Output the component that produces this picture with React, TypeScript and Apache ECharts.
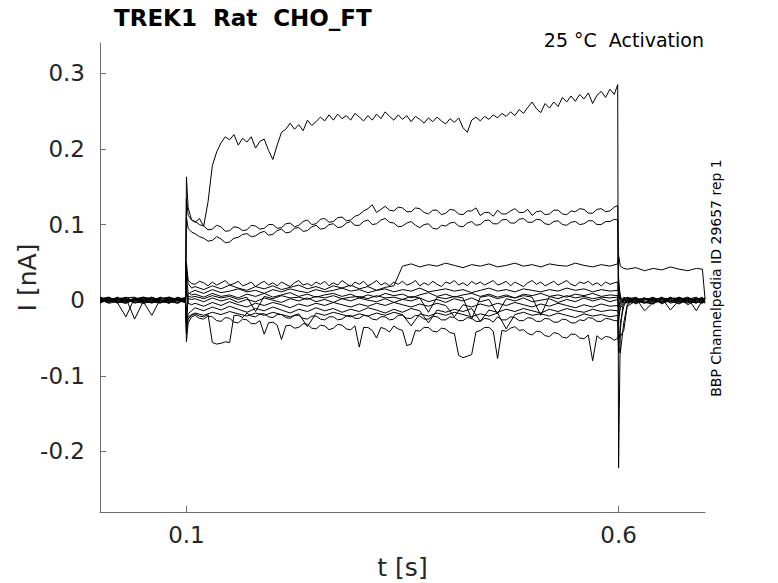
import React, { useEffect, useRef } from "react";
import * as echarts from "echarts";

// time grids (s)
const T_PRE = [0, 0.01, 0.02, 0.03, 0.04, 0.05, 0.06, 0.07, 0.08, 0.09, 0.099, 0.1, 0.102, 0.106];
const T_STEP_COARSE = [
  0.11, 0.12, 0.13, 0.14, 0.15, 0.16, 0.17, 0.18, 0.19, 0.2,
  0.21, 0.22, 0.23, 0.24, 0.25, 0.26, 0.27, 0.28, 0.29, 0.3,
  0.31, 0.32, 0.33, 0.34, 0.35, 0.36, 0.37, 0.38, 0.39, 0.4,
  0.41, 0.42, 0.43, 0.44, 0.45, 0.46, 0.47, 0.48, 0.49, 0.5,
  0.51, 0.52, 0.53, 0.54, 0.55, 0.56, 0.57, 0.58, 0.59,
];
const T_STEP_FINE = [
  0.11, 0.115, 0.12, 0.125, 0.13, 0.135, 0.14, 0.145, 0.15, 0.155,
  0.16, 0.165, 0.17, 0.175, 0.18, 0.185, 0.19, 0.195, 0.2, 0.205,
  0.21, 0.215, 0.22, 0.225, 0.23, 0.235, 0.24, 0.245, 0.25, 0.255,
  0.26, 0.265, 0.27, 0.275, 0.28, 0.285, 0.29, 0.295, 0.3, 0.305,
  0.31, 0.315, 0.32, 0.325, 0.33, 0.335, 0.34, 0.345, 0.35, 0.355,
  0.36, 0.365, 0.37, 0.375, 0.38, 0.385, 0.39, 0.395, 0.4, 0.405,
  0.41, 0.415, 0.42, 0.425, 0.43, 0.435, 0.44, 0.445, 0.45, 0.455,
  0.46, 0.465, 0.47, 0.475, 0.48, 0.485, 0.49, 0.495, 0.5, 0.505,
  0.51, 0.515, 0.52, 0.525, 0.53, 0.535, 0.54, 0.545, 0.55, 0.555,
  0.56, 0.565, 0.57, 0.575, 0.58, 0.585, 0.59, 0.595,
];
const T_POST = [0.599, 0.6, 0.602, 0.606, 0.61, 0.62, 0.63, 0.64, 0.65, 0.66, 0.67, 0.68, 0.69, 0.697, 0.7];

// current traces (nA) — fine resolution during the step
const traceA = [
  0.002, 0.004, -0.001, -0.004, 0.001, 0.003, 0.0, -0.003, -0.002, 0.003, 0.001,
  0.163, 0.122, 0.106,
  0.103, 0.108, 0.098, 0.13, 0.178, 0.196, 0.208, 0.216, 0.212, 0.219,
  0.205, 0.214, 0.209, 0.216, 0.201, 0.21, 0.213, 0.198, 0.186, 0.205,
  0.222, 0.226, 0.234, 0.226, 0.232, 0.224, 0.238, 0.231, 0.236, 0.242,
  0.237, 0.245, 0.238, 0.246, 0.24, 0.244, 0.238, 0.247, 0.242, 0.237,
  0.244, 0.238, 0.246, 0.24, 0.249, 0.243, 0.238, 0.245, 0.239, 0.244,
  0.236, 0.243, 0.239, 0.234, 0.241, 0.236, 0.242, 0.237, 0.233, 0.24,
  0.235, 0.241, 0.228, 0.222, 0.238, 0.242, 0.237, 0.243, 0.239, 0.245,
  0.241, 0.247, 0.243, 0.249, 0.244, 0.252, 0.247, 0.255, 0.262, 0.253,
  0.248, 0.26, 0.254, 0.262, 0.256, 0.268, 0.262, 0.27, 0.263, 0.272,
  0.266, 0.274, 0.26, 0.271, 0.276, 0.268, 0.279, 0.272,
  0.285, -0.222, -0.04, 0.004,
  0.002, -0.001, -0.004, 0.003, 0.001, -0.002, 0.004, 0.0, -0.003, 0.002, -0.001,
];
const traceB = [
  -0.003, 0.001, 0.003, 0.002, -0.004, -0.001, 0.004, 0.0, -0.003, 0.001, -0.002,
  0.135, 0.112, 0.106,
  0.104, 0.1, 0.098, 0.093, 0.094, 0.099, 0.097, 0.091, 0.092, 0.097,
  0.096, 0.092, 0.093, 0.099, 0.098, 0.094, 0.095, 0.1, 0.1, 0.095,
  0.096, 0.101, 0.102, 0.097, 0.099, 0.104, 0.106, 0.1, 0.101, 0.107,
  0.108, 0.103, 0.104, 0.109, 0.11, 0.105, 0.106, 0.111, 0.113, 0.118,
  0.121, 0.126, 0.116, 0.12, 0.124, 0.119, 0.118, 0.123, 0.122, 0.117,
  0.117, 0.122, 0.121, 0.116, 0.114, 0.119, 0.119, 0.113, 0.115, 0.12,
  0.119, 0.114, 0.113, 0.118, 0.118, 0.122, 0.112, 0.116, 0.116, 0.111,
  0.119, 0.114, 0.114, 0.118, 0.121, 0.116, 0.116, 0.12, 0.112, 0.117,
  0.118, 0.113, 0.114, 0.119, 0.119, 0.114, 0.113, 0.118, 0.117, 0.121,
  0.12, 0.115, 0.115, 0.12, 0.121, 0.117, 0.118, 0.123,
  0.125, 0.03, 0.002, -0.003,
  -0.003, 0.002, 0.001, -0.002, 0.004, -0.004, 0.0, 0.003, 0.001, -0.002, 0.002,
];
const traceC = [
  0.001, -0.004, -0.002, 0.003, 0.004, -0.002, -0.003, 0.002, 0.001, -0.004, 0.002,
  0.11, 0.095, 0.09,
  0.088, 0.084, 0.082, 0.078, 0.079, 0.084, 0.081, 0.076, 0.077, 0.082,
  0.083, 0.087, 0.088, 0.084, 0.085, 0.089, 0.091, 0.086, 0.087, 0.092,
  0.094, 0.089, 0.09, 0.095, 0.096, 0.091, 0.092, 0.097, 0.099, 0.094,
  0.095, 0.1, 0.101, 0.096, 0.097, 0.102, 0.104, 0.099, 0.099, 0.104,
  0.106, 0.1, 0.101, 0.106, 0.108, 0.103, 0.102, 0.097, 0.098, 0.102,
  0.104, 0.099, 0.096, 0.1, 0.101, 0.095, 0.094, 0.099, 0.098, 0.102,
  0.103, 0.098, 0.097, 0.102, 0.104, 0.099, 0.1, 0.105, 0.106, 0.101,
  0.101, 0.106, 0.107, 0.102, 0.102, 0.107, 0.108, 0.103, 0.103, 0.107,
  0.106, 0.101, 0.1, 0.104, 0.105, 0.1, 0.099, 0.103, 0.104, 0.1,
  0.101, 0.105, 0.105, 0.1, 0.1, 0.104, 0.104, 0.107,
  0.106, 0.01, -0.004, 0.002,
  0.001, 0.004, -0.003, 0.0, -0.002, 0.003, -0.001, -0.004, 0.002, 0.003, -0.002,
];
const traceE = [
  -0.002, -0.001, 0.004, -0.003, 0.0, 0.002, 0.003, -0.001, -0.004, 0.002, 0.003,
  0.05, 0.026, 0.022,
  0.021, 0.025, 0.023, 0.019, 0.024, 0.02, 0.023, 0.026, 0.02, 0.022,
  0.025, 0.019, 0.021, 0.024, 0.018, 0.022, 0.025, 0.02, 0.023, 0.019,
  0.024, 0.021, 0.018, 0.023, 0.026, 0.02, 0.022, 0.019, 0.024, 0.021,
  0.025, 0.019, 0.023, 0.02, 0.026, 0.022, 0.018, 0.024, 0.021, 0.025,
  0.019, 0.022, 0.026, 0.02, 0.023, 0.019, 0.024, 0.021, 0.025, 0.02,
  0.022, 0.026, 0.019, 0.023, 0.02, 0.025, 0.021, 0.018, 0.024, 0.022,
  0.026, 0.02, 0.023, 0.019, 0.025, 0.021, 0.024, 0.02, 0.023, 0.026,
  0.02, 0.022, 0.025, 0.019, 0.024, 0.021, 0.018, 0.023, 0.026, 0.021,
  0.024, 0.019, 0.022, 0.025, 0.02, 0.023, 0.026, 0.021, 0.019, 0.024,
  0.022, 0.025, 0.02, 0.023, 0.019, 0.024, 0.021, 0.023,
  0.024, 0.01, 0.002, 0.0,
  -0.004, 0.0, 0.003, -0.001, -0.003, 0.002, 0.001, 0.004, -0.002, 0.0, 0.003,
];
const traceK = [
  0.003, 0.001, -0.003, -0.022, 0.003, -0.001, 0.002, 0.0, -0.004, 0.002, 0.001,
  -0.035, -0.025, -0.02,
  -0.018, -0.021, -0.022, -0.019, -0.056, -0.058, -0.057, -0.055, -0.056, -0.02,
  -0.02, -0.023, -0.017, -0.021, -0.022, -0.018, -0.018, -0.022, -0.023, -0.019,
  -0.019, -0.023, -0.024, -0.02, -0.02, -0.024, -0.025, -0.021, -0.021, -0.025,
  -0.026, -0.022, -0.022, -0.026, -0.025, -0.021, -0.02, -0.024, -0.024, -0.02,
  -0.021, -0.025, -0.026, -0.022, -0.022, -0.026, -0.025, -0.02, -0.02, -0.024,
  -0.024, -0.02, -0.021, -0.025, -0.025, -0.021, -0.022, -0.026, -0.026, -0.022,
  -0.023, -0.027, -0.027, -0.023, -0.024, -0.028, -0.028, -0.024, -0.025, -0.029,
  -0.022, -0.026, -0.026, -0.022, -0.023, -0.027, -0.027, -0.023, -0.024, -0.028,
  -0.028, -0.024, -0.025, -0.029, -0.029, -0.025, -0.026, -0.03, -0.03, -0.026,
  -0.027, -0.023, -0.024, -0.028, -0.028, -0.024, -0.025, -0.027,
  -0.027, -0.06, -0.07, -0.03,
  -0.006, 0.002, -0.004, 0.001, 0.003, -0.013, 0.0, 0.002, -0.002, -0.004, 0.003,
];
const traceL = [
  -0.003, 0.0, 0.002, 0.003, -0.025, -0.002, 0.004, -0.003, 0.001, 0.0, -0.002,
  -0.055, -0.03, -0.022,
  -0.02, -0.024, -0.025, -0.021, -0.022, -0.027, -0.028, -0.023, -0.024, -0.029,
  -0.03, -0.025, -0.026, -0.031, -0.031, -0.027, -0.045, -0.03, -0.029, -0.033,
  -0.052, -0.034, -0.033, -0.037, -0.036, -0.031, -0.032, -0.037, -0.038, -0.033,
  -0.034, -0.039, -0.037, -0.032, -0.033, -0.038, -0.039, -0.034, -0.062, -0.036,
  -0.036, -0.04, -0.05, -0.036, -0.038, -0.042, -0.034, -0.038, -0.04, -0.06,
  -0.058, -0.04, -0.041, -0.036, -0.036, -0.041, -0.042, -0.037, -0.038, -0.043,
  -0.044, -0.073, -0.076, -0.074, -0.072, -0.042, -0.04, -0.036, -0.036, -0.041,
  -0.077, -0.04, -0.041, -0.037, -0.035, -0.04, -0.039, -0.044, -0.046, -0.041,
  -0.042, -0.047, -0.048, -0.043, -0.044, -0.049, -0.05, -0.045, -0.045, -0.05,
  -0.051, -0.046, -0.08, -0.047, -0.052, -0.048, -0.049, -0.053,
  -0.05, -0.045, -0.048, -0.04,
  -0.008, -0.001, 0.003, -0.005, 0.002, -0.002, 0.004, -0.006, 0.0, 0.002, -0.003,
];

// current traces (nA) — coarse resolution during the step
const traceD = [
  0.004, 0.0, -0.003, -0.001, 0.002, 0.004, -0.002, -0.004, 0.003, 0.0, -0.001,
  0.04, 0.022, 0.016,
  0.018, 0.014, 0.019, 0.015, 0.02, 0.016, 0.013, 0.018, 0.015, 0.019,
  0.014, 0.017, 0.02, 0.015, 0.018, 0.014, 0.019, 0.016, 0.02, 0.015,
  0.018, 0.013, 0.017, 0.019, 0.045, 0.048, 0.044, 0.047, 0.045, 0.049,
  0.046, 0.043, 0.047, 0.045, 0.048, 0.044, 0.046, 0.049, 0.045, 0.047,
  0.044, 0.048, 0.046, 0.045, 0.049, 0.046, 0.044, 0.047, 0.045,
  0.048, 0.06, 0.045, 0.042,
  0.041, 0.043, 0.039, 0.042, 0.04, 0.044, 0.041, 0.039, 0.042, 0.041, 0.002,
];
const traceF = [
  0.003, -0.003, 0.0, 0.004, -0.002, -0.004, 0.001, 0.003, 0.002, -0.003, 0.0,
  -0.04, 0.008, 0.011,
  0.013, 0.009, 0.014, 0.01, 0.012, 0.015, 0.011, 0.013, 0.009, 0.014,
  0.011, 0.015, 0.012, 0.01, 0.014, 0.011, 0.013, 0.016, 0.012, 0.014,
  0.01, 0.013, 0.015, 0.011, 0.014, 0.012, 0.016, 0.011, 0.013, 0.015,
  0.012, 0.014, 0.01, 0.013, 0.016, 0.012, 0.014, 0.011, 0.015, 0.013,
  0.011, 0.014, 0.012, 0.016, 0.013, 0.015, 0.011, 0.014, 0.012,
  0.013, 0.02, 0.005, -0.001,
  0.003, -0.002, 0.0, 0.004, -0.004, -0.001, 0.002, -0.003, 0.003, -0.001, 0.0,
];
const traceG = [
  -0.004, 0.002, 0.001, -0.002, 0.003, 0.0, -0.004, 0.001, 0.004, -0.001, -0.003,
  0.03, 0.01, 0.007,
  0.008, 0.004, 0.009, 0.005, 0.007, 0.003, 0.008, 0.005, 0.009, 0.004,
  0.007, 0.01, 0.005, 0.008, 0.004, 0.007, 0.009, 0.005, 0.008, 0.003,
  0.007, 0.004, 0.009, 0.006, 0.008, 0.003, 0.007, 0.01, 0.005, 0.008,
  0.004, 0.007, 0.009, 0.005, 0.008, 0.004, 0.007, 0.003, 0.008, 0.006,
  0.009, 0.005, 0.007, 0.004, 0.008, 0.006, 0.009, 0.005, 0.007,
  0.006, -0.03, -0.008, 0.0,
  -0.001, -0.004, 0.002, 0.001, 0.003, -0.002, -0.004, 0.002, 0.0, 0.004, -0.003,
];
const traceH = [
  0.0, 0.003, -0.004, 0.001, -0.001, 0.004, 0.002, -0.003, 0.0, 0.003, -0.004,
  -0.02, 0.002, 0.001,
  0.002, -0.002, 0.003, -0.001, 0.002, -0.003, 0.001, -0.002, 0.003, 0.0,
  -0.003, 0.002, -0.001, 0.003, -0.002, 0.001, -0.003, 0.002, -0.001, 0.003,
  0.0, -0.002, 0.002, -0.003, 0.001, -0.001, 0.003, -0.002, 0.001, -0.003,
  0.002, -0.001, 0.003, -0.002, 0.001, -0.018, 0.002, -0.001, 0.003, -0.002,
  0.0, 0.002, -0.003, 0.001, -0.002, 0.003, -0.001, 0.002, -0.002,
  0.001, 0.015, 0.003, -0.002,
  0.004, 0.001, -0.002, -0.004, 0.0, 0.003, 0.002, -0.002, -0.003, 0.001, 0.002,
];
const traceI = [
  0.002, -0.002, 0.002, 0.0, -0.003, 0.001, -0.001, 0.004, -0.002, -0.004, 0.003,
  0.02, -0.004, -0.006,
  -0.004, -0.008, -0.003, -0.007, -0.002, -0.006, -0.009, -0.004, -0.007, -0.003,
  -0.006, -0.01, -0.005, -0.008, -0.004, -0.007, -0.003, -0.006, -0.009, -0.005,
  -0.008, -0.004, -0.007, -0.003, -0.006, -0.009, -0.005, -0.008, -0.004, -0.007,
  -0.022, -0.006, -0.009, -0.005, -0.008, -0.004, -0.007, -0.003, -0.006, -0.009,
  -0.005, -0.008, -0.004, -0.007, -0.01, -0.006, -0.009, -0.005, -0.008,
  -0.007, -0.012, -0.004, 0.001,
  -0.002, 0.003, -0.014, -0.003, 0.002, 0.0, -0.005, 0.001, 0.004, -0.002, -0.004,
];
const traceJ = [
  -0.001, 0.004, -0.002, -0.004, 0.001, -0.002, -0.02, 0.002, 0.004, 0.001, -0.002,
  -0.03, -0.018, -0.014,
  -0.01, -0.014, -0.009, -0.013, -0.008, -0.012, -0.016, -0.011, -0.014, -0.009,
  -0.013, -0.017, -0.012, -0.015, -0.01, -0.014, -0.011, -0.016, -0.012, -0.015,
  -0.01, -0.013, -0.017, -0.012, -0.016, -0.011, -0.014, -0.03, -0.013, -0.016,
  -0.012, -0.015, -0.011, -0.028, -0.013, -0.016, -0.012, -0.015, -0.011, -0.014,
  -0.017, -0.012, -0.015, -0.011, -0.014, -0.016, -0.012, -0.015, -0.013,
  -0.014, -0.02, -0.01, -0.005,
  0.0, -0.003, 0.001, 0.003, -0.005, 0.002, 0.003, -0.001, -0.004, 0.002, 0.001,
];
const traceM = [
  0.001, -0.003, 0.003, -0.001, 0.002, -0.004, -0.002, 0.003, -0.001, 0.004, 0.0,
  0.01, 0.005, 0.004,
  0.005, 0.002, 0.006, 0.003, 0.005, 0.001, 0.004, -0.015, 0.005, 0.002,
  0.006, 0.003, 0.004, 0.001, 0.005, 0.003, 0.006, 0.002, 0.004, 0.005,
  0.002, 0.006, 0.003, 0.004, 0.001, 0.005, 0.003, -0.016, 0.004, 0.002,
  0.005, 0.003, -0.025, 0.004, 0.006, 0.002, 0.005, 0.003, 0.006, 0.004,
  -0.02, 0.005, 0.002, 0.006, 0.003, 0.005, 0.002, 0.004, 0.003,
  0.004, -0.01, 0.0, 0.002,
  0.003, -0.005, 0.001, 0.002, -0.002, 0.004, -0.003, 0.0, 0.002, -0.004, 0.001,
];
const traceN = [
  -0.002, 0.003, 0.0, 0.002, -0.001, 0.003, -0.003, -0.002, 0.002, -0.001, 0.004,
  -0.045, -0.022, -0.019,
  -0.017, -0.02, -0.016, -0.019, -0.015, -0.018, -0.021, -0.017, -0.02, -0.016,
  -0.019, -0.022, -0.018, -0.035, -0.017, -0.02, -0.016, -0.019, -0.022, -0.018,
  -0.021, -0.017, -0.02, -0.016, -0.019, -0.034, -0.018, -0.021, -0.017, -0.02,
  -0.016, -0.019, -0.022, -0.018, -0.021, -0.017, -0.038, -0.019, -0.016, -0.02,
  -0.018, -0.021, -0.017, -0.02, -0.023, -0.018, -0.021, -0.019, -0.022,
  -0.02, -0.07, -0.03, -0.008,
  0.0, 0.002, -0.003, -0.005, 0.003, 0.001, -0.002, 0.003, -0.014, 0.0, 0.002,
];

const FINE_TRACES = [traceL, traceK, traceE, traceC, traceB, traceA];
const COARSE_TRACES = [traceN, traceM, traceJ, traceI, traceH, traceG, traceF, traceD];

const X_TICKS = [0.1, 0.6];
const Y_TICKS = [-0.2, -0.1, 0, 0.1, 0.2, 0.3];

const TITLE = "TREK1  Rat  CHO_FT";
const NOTE = "25 °C  Activation";
const SIDE = "BBP Channelpedia ID 29657 rep 1";

const FONT = "DejaVu Sans";
const TEXT_COLOR = "#262626";
const AXIS_COLOR = "#6e6e6e";

export default function App() {
  const ref = useRef<HTMLDivElement>(null);

  useEffect(() => {
    if (!ref.current) return;
    const chart = echarts.init(ref.current, null, { renderer: "svg" });
    const T_COARSE = T_PRE.concat(T_STEP_COARSE, T_POST);
    const T_FINE = T_PRE.concat(T_STEP_FINE, T_POST);
    const mk = (times: number[], vals: number[], k: string) => ({
      type: "line",
      name: k,
      data: times.map((t, i) => [t, vals[i]]).filter((p) => p[1] !== undefined),
      showSymbol: false,
      symbol: "none",
      silent: true,
      clip: true,
      lineStyle: { color: "#000", width: 1 },
      z: 2,
    });
    const series = [
      ...COARSE_TRACES.map((v, k) => mk(T_COARSE, v, "c" + k)),
      ...FINE_TRACES.map((v, k) => mk(T_FINE, v, "f" + k)),
    ];

    chart.setOption({
      animation: false,
      backgroundColor: "#fff",
      grid: { left: 100, top: 43, width: 605, height: 469, containLabel: false, outerBoundsMode: "none" },
      xAxis: {
        type: "value",
        min: 0,
        max: 0.7,
        name: "t [s]",
        nameLocation: "middle",
        nameGap: 43,
        nameMoveOverlap: false,
        nameTextStyle: { fontFamily: FONT, fontSize: 25, color: TEXT_COLOR },
        axisLine: { show: true, onZero: false, lineStyle: { color: AXIS_COLOR, width: 1 } },
        axisTick: { show: true, inside: true, length: 6, customValues: X_TICKS, lineStyle: { color: AXIS_COLOR } },
        axisLabel: {
          customValues: X_TICKS,
          fontFamily: FONT,
          fontSize: 23,
          color: TEXT_COLOR,
          margin: 11,
          formatter: (v: number) => String(v),
        },
        splitLine: { show: false },
      },
      yAxis: {
        type: "value",
        min: -0.28,
        max: 0.34,
        name: "I [nA]",
        nameLocation: "middle",
        nameGap: 60,
        nameRotate: 90,
        nameMoveOverlap: false,
        nameTextStyle: { fontFamily: FONT, fontSize: 25, color: TEXT_COLOR },
        axisLine: { show: true, onZero: false, lineStyle: { color: AXIS_COLOR, width: 1 } },
        axisTick: { show: true, inside: true, length: 6, customValues: Y_TICKS, lineStyle: { color: AXIS_COLOR } },
        axisLabel: {
          customValues: Y_TICKS,
          fontFamily: FONT,
          fontSize: 23,
          color: TEXT_COLOR,
          margin: 15,
          formatter: (v: number) => (Math.abs(v) < 1e-9 ? "0" : String(v)),
        },
        splitLine: { show: false },
      },
      graphic: [
        {
          type: "text",
          x: 114,
          y: 18,
          style: {
            text: TITLE,
            fontFamily: FONT,
            fontSize: 23,
            fontWeight: "bold",
            fill: "#000",
            verticalAlign: "middle",
          },
        },
        {
          type: "text",
          x: 704,
          y: 40,
          style: {
            text: NOTE,
            fontFamily: FONT,
            fontSize: 19,
            fill: "#000",
            align: "right",
            verticalAlign: "middle",
          },
        },
        {
          type: "text",
          x: 716,
          y: 278,
          rotation: Math.PI / 2,
          style: {
            text: SIDE,
            fontFamily: FONT,
            fontSize: 14,
            fill: "#000",
            align: "center",
            verticalAlign: "middle",
          },
        },
      ],
      series,
    });
    return () => chart.dispose();
  }, []);

  return (
    <div
      ref={ref}
      style={{ position: "absolute", left: 0, top: 0, width: 778, height: 583 }}
    />
  );
}
